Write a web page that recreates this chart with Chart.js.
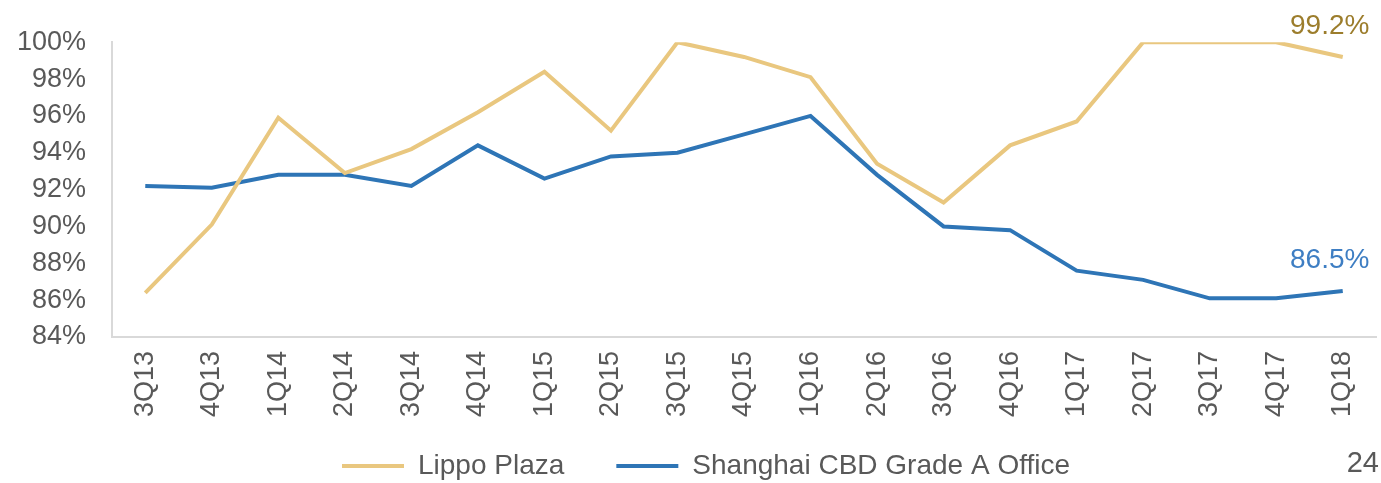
<!DOCTYPE html>
<html>
<head>
<meta charset="utf-8">
<script src="https://cdn.jsdelivr.net/npm/chart.js@4/dist/chart.umd.min.js"></script>
<style>
  html, body { margin: 0; padding: 0; background: #fff; }
  #wrap { position: relative; width: 1381px; height: 483px; }
  #page-no {
    position: absolute; right: 2px; top: 446px;
    font: 29px "Liberation Sans", Arial, sans-serif; color: #595959;
  }
</style>
</head>
<body>
<div id="wrap">
  <canvas id="chart" width="1381" height="483"></canvas>
  <div id="page-no">24</div>
</div>
<script>
// 四半期ラベル
const quarters = ['3Q13', '4Q13', '1Q14', '2Q14', '3Q14', '4Q14', '1Q15', '2Q15', '3Q15', '4Q15',
  '1Q16', '2Q16', '3Q16', '4Q16', '1Q17', '2Q17', '3Q17', '4Q17', '1Q18'];

// 稼働率（%）
const lippoPlaza = [86.4, 90.1, 95.9, 92.9, 94.2, 96.2, 98.4, 95.2, 100, 99.2,
  98.1, 93.4, 91.3, 94.4, 95.7, 100, 100, 100, 99.2];
const shanghaiCbd = [92.2, 92.1, 92.8, 92.8, 92.2, 94.4, 92.6, 93.8, 94.0, 95.0,
  96.0, 92.8, 90.0, 89.8, 87.6, 87.1, 86.1, 86.1, 86.5];

const yTicks = [84, 86, 88, 90, 92, 94, 96, 98, 100];

const FONT = '"Liberation Sans", Arial, sans-serif';
const GOLD = '#E9C77F';
const BLUE = '#2E75B6';

// 最終値ラベル
const endLabels = {
  id: 'endLabels',
  afterDatasetsDraw: (chart) => {
    const ctx = chart.ctx;
    const cols = ['#9C7D2C', '#3E7EC3'];
    ctx.save();
    ctx.font = '28px ' + FONT;
    ctx.textAlign = 'center';
    ctx.textBaseline = 'alphabetic';
    chart.data.datasets.forEach((ds, i) => {
      const meta = chart.getDatasetMeta(i);
      const pt = meta.data[meta.data.length - 1];
      const v = ds.data[ds.data.length - 1];
      ctx.fillStyle = cols[i];
      ctx.fillText(v.toFixed(1) + '%', pt.x - 13, pt.y - 23);
    });
    ctx.restore();
  },
};

// 凡例の横位置・X軸ラベルの描画範囲を調整
const layoutTweak = {
  id: 'layoutTweak',
  afterLayout: (chart) => {
    chart.legend.left = 342 - 52;
    chart.scales.x.bottom = chart.height;
  },
};

new Chart(document.getElementById('chart'), {
  type: 'line',
  data: {
    labels: quarters,
    datasets: [
      {
        label: 'Lippo Plaza',
        data: lippoPlaza,
        borderColor: GOLD,
        backgroundColor: GOLD,
        borderWidth: 4,
        pointRadius: 0,
        tension: 0,
      },
      {
        label: 'Shanghai CBD Grade A Office',
        data: shanghaiCbd,
        borderColor: BLUE,
        backgroundColor: BLUE,
        borderWidth: 4,
        pointRadius: 0,
        tension: 0,
      },
    ],
  },
  options: {
    responsive: false,
    animation: false,
    layout: { padding: { top: 31, right: 5, left: 0, bottom: -7 } },
    plugins: {
      tooltip: { enabled: false },
      legend: {
        position: 'bottom',
        align: 'start',
        labels: {
          usePointStyle: true,
          pointStyle: 'line',
          pointStyleWidth: 62,
          padding: 52,
          color: '#595959',
          font: { family: FONT, size: 28 },
        },
      },
    },
    scales: {
      x: {
        offset: true,
        grid: { display: false, drawTicks: false },
        border: { display: true, color: '#D9D9D9', width: 2 },
        ticks: {
          color: '#595959',
          font: { family: FONT, size: 27 },
          minRotation: 90,
          maxRotation: 90,
          padding: 14,
        },
        afterFit: (axis) => {
          axis.height = 63;
          axis.paddingLeft = 0;
          axis.paddingRight = 0;
        },
      },
      y: {
        min: 84,
        max: 100,
        afterBuildTicks: (axis) => { axis.ticks = yTicks.map((v) => ({ value: v })); },
        afterFit: (axis) => { axis.width = 112; },
        grid: { display: false, drawTicks: false },
        border: { display: true, color: '#D9D9D9', width: 2 },
        ticks: {
          color: '#595959',
          font: { family: FONT, size: 27 },
          padding: 26,
          callback: (v) => v + '%',
        },
      },
    },
  },
  plugins: [endLabels, layoutTweak],
});
</script>
</body>
</html>
